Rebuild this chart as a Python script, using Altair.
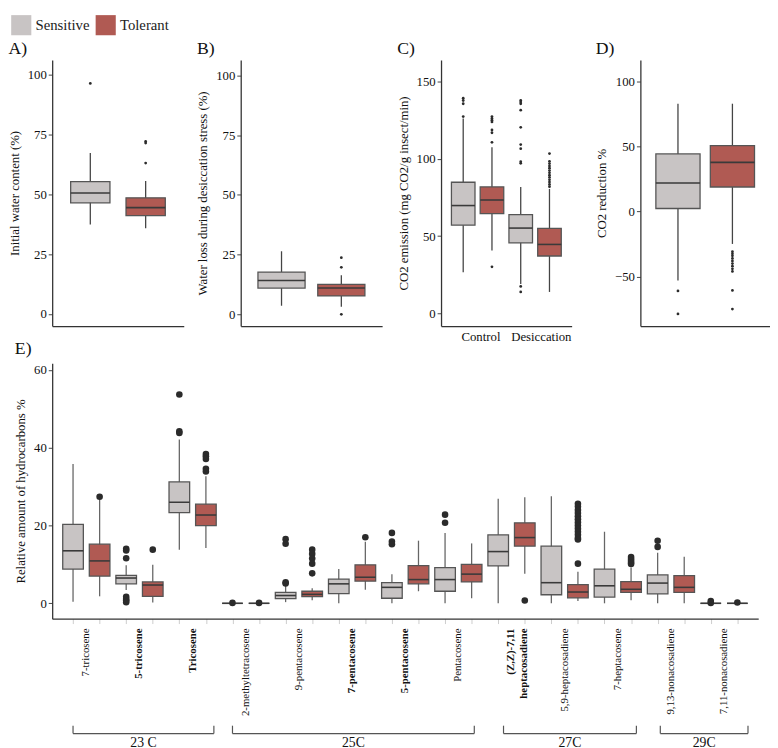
import altair as alt
import pandas as pd

FONT = "Liberation Serif, Times New Roman, Times, serif"
GROUPS = ["Sensitive", "Tolerant"]
GRAY = "#C8C4C4"
RED = "#B05A53"

# ---------------- Panel A: initial water content ----------------
A_grp = ["Sensitive", "Tolerant"]
A_q1 = [46.4, 41.1]
A_med = [50.5, 44.4]
A_q3 = [55.2, 48.5]
A_lo = [37.4, 35.8]
A_hi = [67.2, 55.5]
A_out = [[96.2], [72.0, 71.3, 63.0]]

# ---------------- Panel B: water loss ----------------
B_grp = ["Sensitive", "Tolerant"]
B_q1 = [11.0, 7.7]
B_med = [14.2, 11.0]
B_q3 = [17.7, 12.5]
B_lo = [3.6, 3.2]
B_hi = [26.4, 16.4]
B_out = [[], [23.7, 19.7, 0.0]]

# ---------------- Panel C: CO2 emission ----------------
C_grp = ["Sensitive", "Tolerant", "Sensitive", "Tolerant"]
C_cond = ["Control", "Desiccation"]
C_q1 = [57.1, 64.5, 45.6, 37.1]
C_med = [69.8, 73.4, 55.2, 44.6]
C_q3 = [84.9, 81.9, 63.9, 55.0]
C_lo = [26.5, 40.7, 19.0, 13.8]
C_hi = [126.2, 107.6, 81.9, 80.6]
C_out = [
    [139.4, 137.9, 135.8, 127.5],
    [127.5, 126.3, 125.1, 124.0, 118.8, 117.0, 110.8, 30.1],
    [137.9, 136.9, 135.8, 131.6, 120.5, 109.3, 106.7, 98.2, 97.2, 17.4, 13.8],
    [82.0, 83.5, 85.0, 86.5, 88.0, 89.5, 91.0, 92.5, 94.0, 95.5, 97.0, 98.5, 103.5],
]

# ---------------- Panel D: CO2 reduction ----------------
D_grp = ["Sensitive", "Tolerant"]
D_q1 = [2.3, 18.8]
D_med = [21.9, 37.7]
D_q3 = [44.2, 50.5]
D_lo = [-53.0, -24.9]
D_hi = [82.7, 82.7]
D_out = [[-61.0, -78.6],
         [-30.9, -32.5, -34.0, -36.0, -38.0, -40.0, -42.0, -44.0, -46.0, -60.6, -74.9]]

# ---------------- Panel E: hydrocarbons ----------------
E_names = ["7-tricosene", "5-tricosene", "Tricosene", "2-methyltetracosene",
           "9-pentacosene", "7-pentacosene", "5-pentacosene", "Pentacosene",
           "(Z,Z)-7,11\nheptacosadiene", "5,9-heptacosadiene", "7-heptacosene",
           "9,13-nonacosadiene", "7,11-nonacosadiene"]
E_bold = [0, 1, 1, 0, 0, 1, 1, 0, 1, 0, 0, 0, 0]
E_grp = GROUPS * 13
E_q1 = [8.8, 7.0, 5.0, 1.8, 23.3, 20.0, 0.0, 0.0, 1.2, 1.7, 2.5, 5.7, 1.3,
        5.0, 3.1, 5.5, 9.6, 14.7, 2.2, 1.4, 1.6, 2.8, 2.4, 2.8, 0.0, 0.0]
E_med = [13.5, 10.9, 6.5, 4.7, 26.0, 22.7, 0.0, 0.0, 2.0, 2.3, 5.0, 6.7, 4.1,
         6.1, 6.1, 7.5, 13.3, 16.9, 5.3, 2.9, 4.5, 3.6, 5.2, 4.1, 0.0, 0.0]
E_q3 = [20.3, 15.2, 7.2, 5.5, 31.2, 25.5, 0.0, 0.0, 2.8, 3.1, 6.2, 9.9, 5.3,
        9.7, 9.2, 10.0, 17.6, 20.7, 14.7, 4.8, 8.8, 5.6, 7.3, 7.1, 0.0, 0.0]
E_lo = [0.4, 1.8, 3.4, 0.2, 13.8, 14.2, 0.0, 0.0, 0.3, 0.8, 0.0, 3.5, 0.0,
        3.1, 0.0, 1.3, 0.0, 7.6, 0.0, 0.6, 0.0, 0.8, 0.0, 0.0, 0.0, 0.0]
E_hi = [35.8, 26.8, 9.8, 9.9, 42.1, 32.7, 0.0, 0.0, 4.5, 3.9, 8.8, 15.8, 7.5,
        16.1, 18.1, 15.4, 26.9, 27.3, 27.5, 8.1, 18.4, 9.2, 13.0, 12.0, 0.0, 0.0]
E_out = [
    [], [27.4], [14.0, 13.6, 11.6, 1.7, 1.1, 0.7, 0.3], [13.8],
    [53.7, 44.2, 43.8], [38.4, 37.8, 37.1, 34.6, 33.9], [0.1], [0.1],
    [16.5, 15.3, 5.4, 5.1], [13.8, 12.7, 11.5, 10.2, 7.7], [], [17.0],
    [18.1, 15.9, 15.2], [], [22.8, 20.7], [], [], [0.7], [],
    [25.6, 24.8, 24.0, 23.2, 22.4, 21.6, 20.8, 20.0, 19.2, 18.4, 17.6, 16.8, 16.4, 10.2],
    [], [11.9, 11.4, 10.9, 10.4, 10.1], [16.1, 14.5], [], [0.6, 0.1], [0.2],
]
E_brackets = ["23 C", "25C", "27C", "29C"]
E_br_start = [1.0, 7.0, 17.2, 23.1]
E_br_end = [6.3, 16.1, 22.2, 26.4]


def box_df(grp, q1, med, q3, lo, hi):
    n = len(grp)
    return pd.DataFrame({"pos": list(range(1, n + 1)), "grp": grp, "q1": q1,
                         "med": med, "q3": q3, "lo": lo, "hi": hi})


def out_df(outs):
    rows = []
    for i, vals in enumerate(outs):
        for v in vals:
            rows.append({"pos": i + 1, "val": v})
    return pd.DataFrame(rows, columns=["pos", "val"])


LEG = alt.Legend(title=None, orient="none", legendX=-42, legendY=-46,
                 direction="horizontal", symbolType="square", symbolSize=420,
                 symbolStrokeWidth=0, labelFont=FONT, labelFontSize=15,
                 labelColor="#222", labelOffset=4, columnPadding=6)
COLOR = alt.Color("grp:N", scale=alt.Scale(domain=GROUPS, range=[GRAY, RED]),
                  legend=LEG)


def panel(bdf, odf, xdom, ydom, yvals, ytitle, w, h, box_w, out_size,
          whisk_col, xaxis, title, toff, extra=None):
    xs = alt.Scale(domain=xdom, nice=False, zero=False)
    ys = alt.Scale(domain=ydom, nice=False, zero=False)
    yax = alt.Axis(values=yvals, title=ytitle, grid=False, tickSize=4,
                   labelPadding=2, titlePadding=6)

    def X(f):
        return alt.X(f"{f}:Q", scale=xs, axis=xaxis, title=None)

    def Y(f):
        return alt.Y(f"{f}:Q", scale=ys, axis=yax, title=ytitle)

    whisk = alt.Chart(bdf).mark_rule(color=whisk_col, strokeWidth=1.3).encode(
        x=X("pos"), y=Y("lo"), y2="hi")
    box = alt.Chart(bdf).mark_bar(size=box_w, stroke="#555", strokeWidth=1.3,
                                  opacity=1).encode(
        x=X("pos"), y=Y("q1"), y2="q3", color=COLOR)
    med = alt.Chart(bdf).mark_tick(orient="horizontal", size=box_w,
                                   thickness=1.6, color="#3a3a3a",
                                   opacity=1).encode(x=X("pos"), y=Y("med"))
    pts = alt.Chart(odf).mark_circle(size=out_size, color="#2b2b2b",
                                     opacity=1).encode(x=X("pos"), y=Y("val"))
    layers = [whisk, box, med, pts]
    if extra:
        layers += extra(X)
    return alt.layer(*layers).properties(
        width=w, height=h,
        title=alt.TitleParams(title, anchor="start", offset=toff))


no_x = alt.Axis(labels=False, ticks=False, domain=True, grid=False)
TH = 271

pA = panel(box_df(A_grp, A_q1, A_med, A_q3, A_lo, A_hi), out_df(A_out),
           [0.4, 2.6], [-5.0, 106.0], [0, 25, 50, 75, 100],
           "Initial water content (%)", 134, TH, 40, 8, "#444", no_x, "A)", 2)
pB = panel(box_df(B_grp, B_q1, B_med, B_q3, B_lo, B_hi), out_df(B_out),
           [0.4, 2.6], [-4.9, 106.5], [0, 25, 50, 75, 100],
           "Water loss during desiccation stress (%)", 144, TH, 48, 8, "#444",
           no_x, "B)", 2)
c_axis = alt.Axis(values=[1.6, 3.7], ticks=False, domain=True, grid=False,
                  labelPadding=5, labelFontSize=13,
                  labelExpr="datum.value < 2.5 ? '%s' : '%s'" % (C_cond[0], C_cond[1]))
pC = panel(box_df(C_grp, C_q1, C_med, C_q3, C_lo, C_hi), out_df(C_out),
           [0.4, 4.6], [-8.3, 164.2], [0, 50, 100, 150],
           "CO2 emission (mg CO2/g insect/min)", 133, TH, 24, 8, "#444",
           c_axis, "C)", 2)
pD = panel(box_df(D_grp, D_q1, D_med, D_q3, D_lo, D_hi), out_df(D_out),
           [0.4, 2.6], [-87.9, 116.3], [-50, 0, 50, 100],
           "CO2 reduction %", 132, TH, 45, 8, "#444", no_x, "D)", 2)

EH = 260
names_df = pd.DataFrame({"pos": [1.5 + 2 * i for i in range(len(E_names))],
                         "name": E_names, "bold": E_bold})
br_df = pd.DataFrame({"start": E_br_start, "end": E_br_end, "label": E_brackets,
                      "mid": [(a + b) / 2 for a, b in zip(E_br_start, E_br_end)]})
br_ends = pd.DataFrame({"pos": E_br_start + E_br_end})


def e_extra(X):
    reg = alt.Chart(names_df).transform_filter("datum.bold == 0").mark_text(
        angle=270, align="right", baseline="middle", font=FONT, fontSize=11,
        color="#111", lineBreak="\n").encode(x=X("pos"), y=alt.value(EH + 10),
                                             text="name:N")
    bold = alt.Chart(names_df).transform_filter("datum.bold == 1").mark_text(
        angle=270, align="right", baseline="middle", font=FONT, fontSize=11,
        fontWeight="bold", color="#111", lineBreak="\n").encode(
        x=X("pos"), y=alt.value(EH + 10), text="name:N")
    hline = alt.Chart(br_df).mark_rule(color="#555", strokeWidth=1.2).encode(
        x=X("start"), x2="end", y=alt.value(EH + 117))
    vline = alt.Chart(br_ends).mark_rule(color="#555", strokeWidth=1.2).encode(
        x=X("pos"), y=alt.value(EH + 109), y2=alt.value(EH + 117))
    lab = alt.Chart(br_df).mark_text(font=FONT, fontSize=14, baseline="top",
                                     color="#111").encode(
        x=X("mid"), y=alt.value(EH + 120), text="label:N")
    return [reg, bold, hline, vline, lab]


e_axis = alt.Axis(values=list(range(1, 27)), labels=False, ticks=True,
                  tickSize=5, tickColor="#cccccc", domain=True, grid=False)
pE = panel(box_df(E_grp, E_q1, E_med, E_q3, E_lo, E_hi), out_df(E_out),
           [0.4, 26.6], [-3.95, 61.7], [0, 20, 40, 60],
           "Relative amount of hydrocarbons %", 719, EH, 21, 45, "#666",
           e_axis, "E)", 6, extra=e_extra)

top = alt.hconcat(
    alt.hconcat(alt.hconcat(pA, pB, spacing=13), pC, spacing=15),
    pD, spacing=24)
chart = alt.vconcat(top, pE, spacing=-4).properties(padding=0).configure_view(
    stroke=None).configure_axis(
    labelFont=FONT, labelFontSize=13, labelColor="#111", titleFont=FONT,
    titleFontSize=13, titleFontWeight="normal", titleColor="#111",
    domainColor="#333", domainWidth=1.3, tickColor="#444").configure_title(
    font=FONT, fontSize=18, fontWeight="normal", color="#111", anchor="start")

chart.save("out.html", embed_options={"renderer": "svg", "actions": False})
